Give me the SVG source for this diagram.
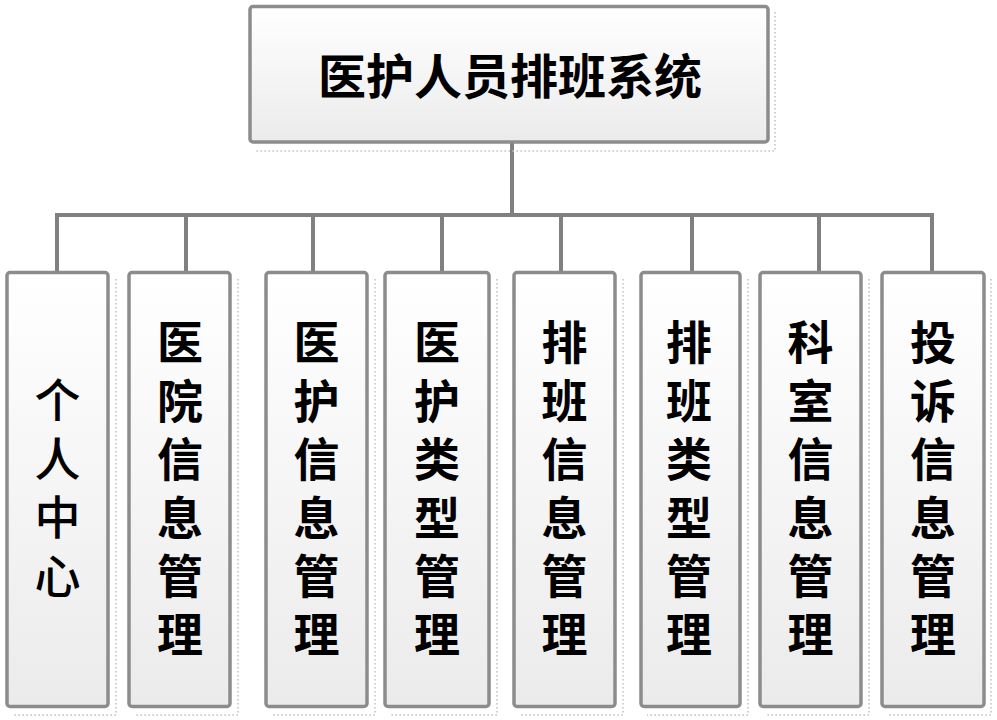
<svg xmlns="http://www.w3.org/2000/svg" width="997" height="720" viewBox="0 0 997 720">
<defs>
<linearGradient id="g" x1="0" y1="0" x2="0" y2="1">
<stop offset="0" stop-color="#ffffff"/>
<stop offset="1" stop-color="#ebebeb"/>
</linearGradient>
<style>
.box{fill:url(#g);stroke:#8c8c8c;stroke-width:3.5}
.sh{fill:none;stroke:#c4c4c4;stroke-width:1.6;stroke-dasharray:1.6 2.4}
.con{fill:none;stroke:#808080;stroke-width:4}
.t{font-family:"Noto Sans CJK SC","Noto Sans CJK TC",sans-serif;font-weight:bold;fill:#000;text-anchor:middle}
.v{font-family:"Noto Sans CJK SC","Noto Sans CJK TC",sans-serif;font-weight:bold;fill:#000;font-size:46px;writing-mode:vertical-rl;letter-spacing:12.4px;text-anchor:start}
</style>
</defs>
<rect width="997" height="720" fill="#ffffff"/>
<g id="connectors">
<path class="con" d="M512,142 V215 M57,273 V215 H932 V273 M186,215 V273 M313,215 V273 M442,215 V273 M561,215 V273 M692,215 V273 M819,215 V273"/>
</g>
<g id="root">
<polyline class="sh" points="775,12 775,151 256,151"/>
<rect class="box" x="250" y="6.5" width="518" height="135.5" rx="3"/>
<text class="t" x="510" y="94" font-size="48">医护人员排班系统</text>
</g>
<g id="n1">
<polyline class="sh" points="116,279 116,715 13,715"/>
<rect class="box" x="7" y="272.5" width="101" height="434" rx="3"/>
<text class="v" x="57.5" y="377" style="font-weight:500">个人中心</text>
</g>
<g id="n2">
<polyline class="sh" points="238,279 238,715 135,715"/>
<rect class="box" x="129" y="272.5" width="101" height="434" rx="3"/>
<text class="v" x="180" y="319">医院信息管理</text>
</g>
<g id="n3">
<polyline class="sh" points="375,279 375,715 272,715"/>
<rect class="box" x="266" y="272.5" width="101" height="434" rx="3"/>
<text class="v" x="316.5" y="319">医护信息管理</text>
</g>
<g id="n4">
<polyline class="sh" points="497,279 497,715 391,715"/>
<rect class="box" x="385" y="272.5" width="104" height="434" rx="3"/>
<text class="v" x="437" y="319">医护类型管理</text>
</g>
<g id="n5">
<polyline class="sh" points="623,279 623,715 520,715"/>
<rect class="box" x="514" y="272.5" width="101" height="434" rx="3"/>
<text class="v" x="564.5" y="319">排班信息管理</text>
</g>
<g id="n6">
<polyline class="sh" points="748,279 748,715 647,715"/>
<rect class="box" x="641" y="272.5" width="99" height="434" rx="3"/>
<text class="v" x="689" y="319">排班类型管理</text>
</g>
<g id="n7">
<polyline class="sh" points="869,279 869,715 766,715"/>
<rect class="box" x="760" y="272.5" width="101" height="434" rx="3"/>
<text class="v" x="810.5" y="319">科室信息管理</text>
</g>
<g id="n8">
<polyline class="sh" points="991,279 991,715 888,715"/>
<rect class="box" x="882" y="272.5" width="102" height="434" rx="3"/>
<text class="v" x="933" y="319">投诉信息管理</text>
</g>
</svg>
